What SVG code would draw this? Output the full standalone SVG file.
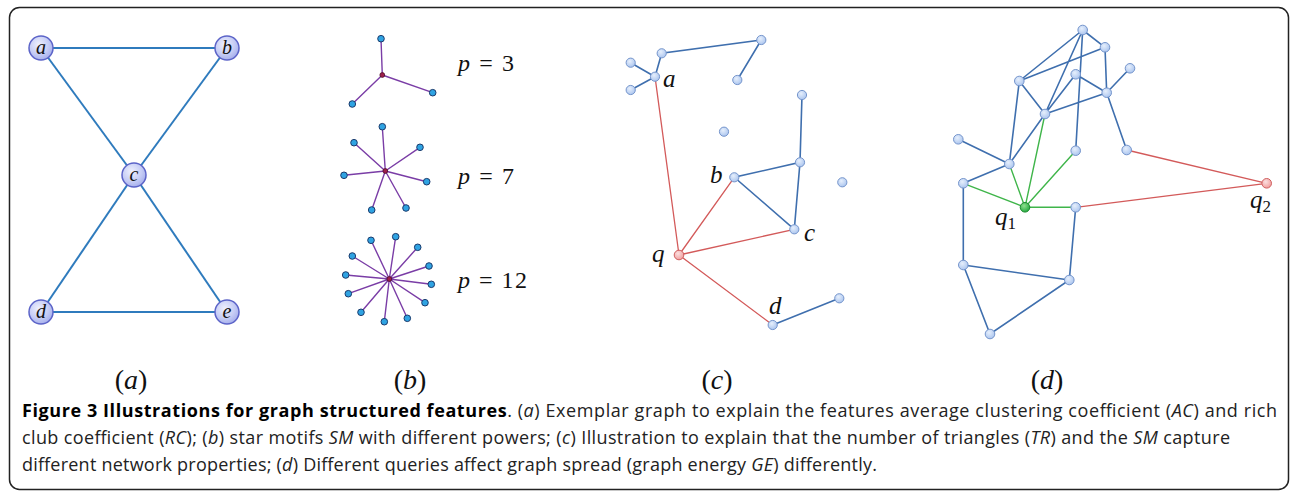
<svg xmlns="http://www.w3.org/2000/svg" width="1293" height="492" viewBox="0 0 1293 492">
<defs>
<radialGradient id="gBig" cx="0.4" cy="0.35" r="0.7">
<stop offset="0" stop-color="#eef0fd"/><stop offset="0.6" stop-color="#c5ccf5"/><stop offset="1" stop-color="#a3aceb"/>
</radialGradient>
<radialGradient id="gSm" cx="0.4" cy="0.35" r="0.7">
<stop offset="0" stop-color="#e6effc"/><stop offset="1" stop-color="#a8c3ee"/>
</radialGradient>
<radialGradient id="gRed" cx="0.4" cy="0.35" r="0.7">
<stop offset="0" stop-color="#fbe0e0"/><stop offset="1" stop-color="#f09a9a"/>
</radialGradient>
<radialGradient id="gGreen" cx="0.4" cy="0.35" r="0.7">
<stop offset="0" stop-color="#8fe08f"/><stop offset="1" stop-color="#1fa63a"/>
</radialGradient>
</defs>
<style>
.frame{fill:#fff;stroke:#222;stroke-width:1.5}
.ea{stroke:#2f7bbd;stroke-width:2;fill:none}
.eb{stroke:#7a3da6;stroke-width:1.4;fill:none}
.e{stroke:#3f6fae;stroke-width:1.6;fill:none}
.er{stroke:#d35a5a;stroke-width:1.3;fill:none}
.eg{stroke:#3fb54a;stroke-width:1.4;fill:none}
.na{fill:url(#gBig);stroke:#5c64c8;stroke-width:1.5}
.nb{fill:#2fa3e2;stroke:#1a3a6c;stroke-width:1}
.nc{fill:#9e1f4c;stroke:#4a0e28;stroke-width:0.8}
.n{fill:url(#gSm);stroke:#7595cc;stroke-width:1}
.nr{fill:url(#gRed);stroke:#d06060;stroke-width:1}
.ng{fill:url(#gGreen);stroke:#1c8a2e;stroke-width:1}
.lab{font-family:"Liberation Serif",serif;font-style:italic;fill:#111}
.math{font-family:"Liberation Serif",serif;fill:#111}
.cap{font-family:"Open Sans",sans-serif;font-size:18px;fill:#222}
.b{font-weight:bold;fill:#000}
.i{font-style:italic}
</style>
<rect class="frame" x="9.5" y="7.5" width="1279" height="482" rx="10"/>

<!-- Panel (a) -->
<g id="edges-a">
<line class="ea" x1="41" y1="48" x2="227" y2="48"/>
<line class="ea" x1="41" y1="48" x2="134" y2="175"/>
<line class="ea" x1="227" y1="48" x2="134" y2="175"/>
<line class="ea" x1="134" y1="175" x2="41" y2="312"/>
<line class="ea" x1="134" y1="175" x2="227" y2="312"/>
<line class="ea" x1="41" y1="312" x2="227" y2="312"/>
</g>
<g id="a-node-a"><circle class="na" cx="41" cy="48" r="12"/><text class="lab" x="41" y="54" font-size="20" text-anchor="middle">a</text></g>
<g id="a-node-b"><circle class="na" cx="227" cy="48" r="12"/><text class="lab" x="227" y="54" font-size="20" text-anchor="middle">b</text></g>
<g id="a-node-c"><circle class="na" cx="134" cy="175" r="12"/><text class="lab" x="134" y="181" font-size="20" text-anchor="middle">c</text></g>
<g id="a-node-d"><circle class="na" cx="41" cy="312" r="12"/><text class="lab" x="41" y="318" font-size="20" text-anchor="middle">d</text></g>
<g id="a-node-e"><circle class="na" cx="227" cy="312" r="12"/><text class="lab" x="227" y="318" font-size="20" text-anchor="middle">e</text></g>

<!-- Panel (b) -->
<g id="edges-b">
<path class="eb" d="M382.3,75 L381,38.7 M382.3,75 L352.3,104 M382.3,75 L432.7,92.7"/>
<path class="eb" d="M385.3,171 L382.3,126.7 M385.3,171 L354,142.7 M385.3,171 L420,147.3 M385.3,171 L344,175.3 M385.3,171 L426.7,181.7 M385.3,171 L371.7,210 M385.3,171 L406,208"/>
<path class="eb" d="M389.3,279 L371,240.3 M389.3,279 L395.7,236.7 M389.3,279 L417.7,247.3 M389.3,279 L352.3,256 M389.3,279 L429,266 M389.3,279 L345.7,275 M389.3,279 L431.3,284.3 M389.3,279 L348.3,293.7 M389.3,279 L425,302.7 M389.3,279 L361,312.3 M389.3,279 L407.3,318.3 M389.3,279 L384.3,321.7"/>
</g>
<g id="star3">
<circle class="nb" cx="381" cy="38.7" r="3.3"/><circle class="nb" cx="352.3" cy="104" r="3.3"/><circle class="nb" cx="432.7" cy="92.7" r="3.3"/>
<circle class="nc" cx="382.3" cy="75" r="2.4"/>
<text class="math" x="458" y="71" font-size="24" textLength="56" lengthAdjust="spacing"><tspan class="i">p</tspan> = 3</text>
</g>
<g id="star7">
<circle class="nb" cx="382.3" cy="126.7" r="3.3"/><circle class="nb" cx="354" cy="142.7" r="3.3"/><circle class="nb" cx="420" cy="147.3" r="3.3"/><circle class="nb" cx="344" cy="175.3" r="3.3"/><circle class="nb" cx="426.7" cy="181.7" r="3.3"/><circle class="nb" cx="371.7" cy="210" r="3.3"/><circle class="nb" cx="406" cy="208" r="3.3"/>
<circle class="nc" cx="385.3" cy="171" r="2.4"/>
<text class="math" x="458" y="184" font-size="24" textLength="56" lengthAdjust="spacing"><tspan class="i">p</tspan> = 7</text>
</g>
<g id="star12">
<circle class="nb" cx="371" cy="240.3" r="3.3"/><circle class="nb" cx="395.7" cy="236.7" r="3.3"/><circle class="nb" cx="417.7" cy="247.3" r="3.3"/><circle class="nb" cx="352.3" cy="256" r="3.3"/><circle class="nb" cx="429" cy="266" r="3.3"/><circle class="nb" cx="345.7" cy="275" r="3.3"/><circle class="nb" cx="431.3" cy="284.3" r="3.3"/><circle class="nb" cx="348.3" cy="293.7" r="3.3"/><circle class="nb" cx="425" cy="302.7" r="3.3"/><circle class="nb" cx="361" cy="312.3" r="3.3"/><circle class="nb" cx="407.3" cy="318.3" r="3.3"/><circle class="nb" cx="384.3" cy="321.7" r="3.3"/>
<circle class="nc" cx="389.3" cy="279" r="2.4"/>
<text class="math" x="458" y="288" font-size="24" textLength="69" lengthAdjust="spacing"><tspan class="i">p</tspan> = 12</text>
</g>

<!-- Panel (c) -->
<g id="edges-c">
<path class="e" d="M630.7,62.7 L655,76.7 M630.7,90 L655,76.7 M655,76.7 L661.7,53.3 L761.3,40 L737.3,80 M802,95 L800,162.3 L734.3,177.3 L794.3,229.3 L800,162.3 M772.7,325 L839.3,298.3"/>
<path class="er" d="M679,255 L655,76.7 M679,255 L734.3,177.3 M679,255 L794.3,229.3 M679,255 L772.7,325"/>
</g>
<g id="c-nodes">
<circle class="n" cx="661.7" cy="53.3" r="4.6"/><circle class="n" cx="761.3" cy="40" r="4.6"/><circle class="n" cx="737.3" cy="80" r="4.6"/>
<circle class="n" cx="630.7" cy="62.7" r="4.6"/><circle class="n" cx="630.7" cy="90" r="4.6"/><circle class="n" cx="724" cy="131.7" r="4.6"/>
<circle class="n" cx="802" cy="95" r="4.6"/><circle class="n" cx="800" cy="162.3" r="4.6"/><circle class="n" cx="842.3" cy="182.3" r="4.6"/>
<circle class="n" cx="839.3" cy="298.3" r="4.6"/>
</g>
<g id="c-node-a"><circle class="n" cx="655" cy="76.7" r="4.6"/><text class="lab" x="663" y="87" font-size="25">a</text></g>
<g id="c-node-b"><circle class="n" cx="734.3" cy="177.3" r="4.6"/><text class="lab" x="710" y="183" font-size="25">b</text></g>
<g id="c-node-c"><circle class="n" cx="794.3" cy="229.3" r="4.6"/><text class="lab" x="804" y="241" font-size="25">c</text></g>
<g id="c-node-q"><circle class="nr" cx="679" cy="255" r="4.8"/><text class="lab" x="652" y="262" font-size="25">q</text></g>
<g id="c-node-d"><circle class="n" cx="772.7" cy="325" r="4.6"/><text class="lab" x="769" y="314" font-size="25">d</text></g>

<!-- Panel (d) -->
<g id="edges-d">
<path class="e" d="M1082.7,30 L1105,47.3 M1082.7,30 L1019.3,81 M1082.7,30 L1045,114 M1082.7,30 L1075.7,150.7 M1019.3,81 L1105,47.3 M1019.3,81 L1045,114 M1019.3,81 L1009.3,164 M1105,47.3 L1106.7,92.7 M1075.7,74.3 L1045,114 M1075.7,74.3 L1106.7,92.7 M1045,114 L1106.7,92.7 M1106.7,92.7 L1130,68.3 M1106.7,92.7 L1126.7,150 M1009.3,164 L1045,114 M958.3,139.3 L1009.3,164 M1009.3,164 L963.3,183.3 M963.3,183.3 L963.3,265 M963.3,265 L1069.3,280 M963.3,265 L990,334 L1069.3,280 L1075.7,207.3"/>
<path class="eg" d="M1025,207.3 L963.3,183.3 M1025,207.3 L1009.3,164 M1025,207.3 L1045,114 M1025,207.3 L1075.7,150.7 M1025,207.3 L1075.7,207.3"/>
<path class="er" d="M1075.7,207.3 L1266.7,183.3 M1126.7,150 L1266.7,183.3"/>
</g>
<g id="d-nodes">
<circle class="n" cx="1082.7" cy="30" r="4.8"/><circle class="n" cx="1105" cy="47.3" r="4.8"/><circle class="n" cx="1130" cy="68.3" r="4.8"/>
<circle class="n" cx="1019.3" cy="81" r="4.8"/><circle class="n" cx="1075.7" cy="74.3" r="4.8"/><circle class="n" cx="1106.7" cy="92.7" r="4.8"/>
<circle class="n" cx="1045" cy="114" r="4.8"/><circle class="n" cx="958.3" cy="139.3" r="4.8"/><circle class="n" cx="1075.7" cy="150.7" r="4.8"/>
<circle class="n" cx="1126.7" cy="150" r="4.8"/><circle class="n" cx="1009.3" cy="164" r="4.8"/><circle class="n" cx="963.3" cy="183.3" r="4.8"/>
<circle class="n" cx="1075.7" cy="207.3" r="4.8"/><circle class="n" cx="963.3" cy="265" r="4.8"/><circle class="n" cx="1069.3" cy="280" r="4.8"/>
<circle class="n" cx="990" cy="334" r="4.8"/>
</g>
<g id="d-node-q1"><circle class="ng" cx="1025" cy="207.3" r="4.8"/><text class="lab" x="995" y="225" font-size="25">q<tspan font-style="normal" font-size="17" dy="4">1</tspan></text></g>
<g id="d-node-q2"><circle class="nr" cx="1266.7" cy="183.3" r="4.8"/><text class="lab" x="1250" y="208" font-size="25">q<tspan font-style="normal" font-size="17" dy="4">2</tspan></text></g>

<!-- Panel labels -->
<g id="panel-labels" class="math" font-size="28" text-anchor="middle">
<text x="131" y="389">(<tspan class="i">a</tspan>)</text>
<text x="410" y="389">(<tspan class="i">b</tspan>)</text>
<text x="717" y="389">(<tspan class="i">c</tspan>)</text>
<text x="1047" y="389">(<tspan class="i">d</tspan>)</text>
</g>

<!-- Caption -->
<g id="caption" class="cap">
<text x="22" y="417" textLength="1255" lengthAdjust="spacing"><tspan class="b">Figure 3 Illustrations for graph structured features</tspan>. (<tspan class="i">a</tspan>) Exemplar graph to explain the features average clustering coefficient (<tspan class="i">AC</tspan>) and rich</text>
<text x="22" y="444" textLength="1208" lengthAdjust="spacing">club coefficient (<tspan class="i">RC</tspan>); (<tspan class="i">b</tspan>) star motifs <tspan class="i">SM</tspan> with different powers; (<tspan class="i">c</tspan>) Illustration to explain that the number of triangles (<tspan class="i">TR</tspan>) and the <tspan class="i">SM</tspan> capture</text>
<text x="22" y="471" textLength="855" lengthAdjust="spacing">different network properties; (<tspan class="i">d</tspan>) Different queries affect graph spread (graph energy <tspan class="i">GE</tspan>) differently.</text>
</g>
</svg>
